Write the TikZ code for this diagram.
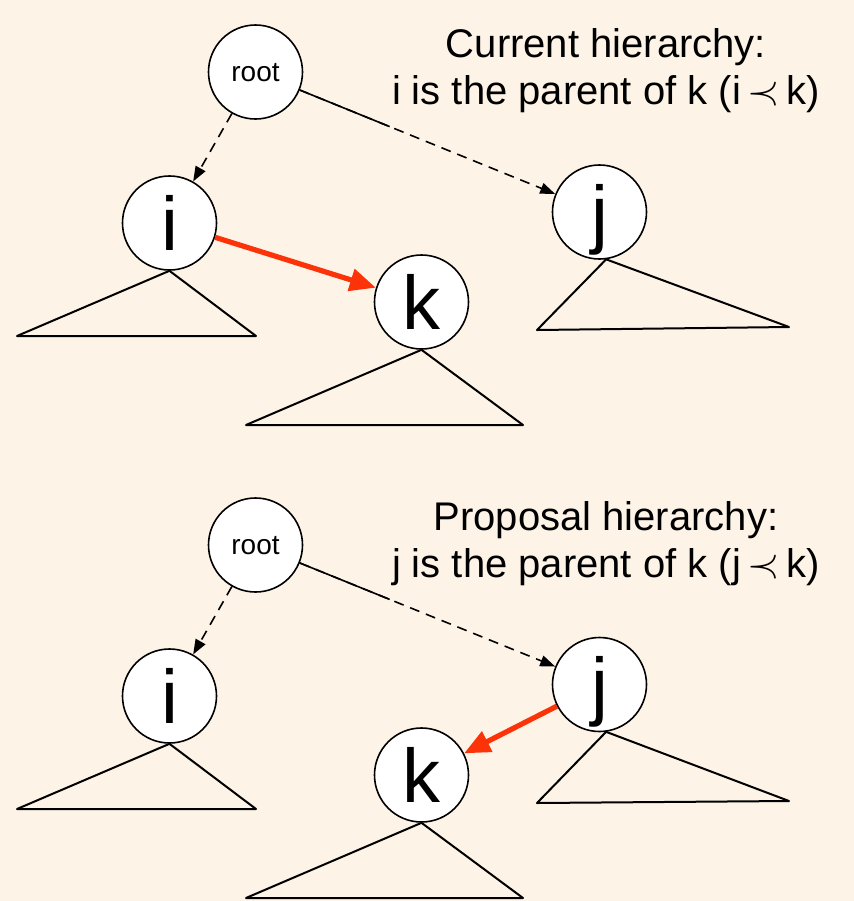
\documentclass[tikz,border=0pt]{standalone}
\usepackage{fontspec}
\setmainfont{Liberation Sans}
\usepackage{tikz}
\usetikzlibrary{arrows.meta,calc}

\definecolor{paper}{RGB}{253,244,231}
\definecolor{movered}{RGB}{252,50,8}

% precedence sign for the captions
\newcommand{\precsign}{\,$\prec$\,}

\begin{document}
\begin{tikzpicture}[x=0.5pt, y=-0.5pt, >={Triangle[length=7.5pt,width=5.5pt]},
    vertex/.style={circle, draw, fill=white, line width=0.8pt, minimum size=47pt, inner sep=0pt,
                   font=\fontsize{38}{38}\selectfont, text height=27pt, text depth=0pt},
    rootv/.style={vertex, font=\fontsize{14}{14}\selectfont, text height=9pt},
    subtree/.style={draw, line width=1pt, line join=round},
    link/.style={line width=0.8pt},
    hidden/.style={link, dash pattern=on 5pt off 3.5pt},
    move/.style={line width=2.6pt, draw=movered, -{Triangle[length=13pt,width=11pt,fill=movered]}},
    caption/.style={align=center, inner sep=0pt, font=\fontsize{20}{23.5}\selectfont}]

    \fill [paper] (0,0) rectangle (854,901);

    % Nodes {root, i, j, k} -- current hierarchy
    \node [rootv]   (root)  at (255.5,72)   {root};
    \node [vertex]  (i)     at (169.5,223)  {i};
    \node [vertex]  (j)     at (599.5,212)  {j};
    \node [vertex]  (k)     at (421.5,302)  {k};
    \node [caption, anchor=north] (cur) at (606,28) {Current hierarchy:\\ i is the parent of k (i\precsign k)};

    % Subtrees
    \draw [subtree] (i.south)  -- (17,336)  -- (256,336) -- cycle;
    \draw [subtree] (j.-82)    -- (537,330) -- (789,327) -- cycle;
    \draw [subtree] (k.south)  -- (246,425) -- (523,425) -- cycle;

    % Paths
    \coordinate (rj) at ($(root)!0.39!(j)$);
    \path [->, hidden]  (root) edge (i);
    \path [->, hidden]  (root) edge (j);
    \draw [link]        (root) -- (rj);
    \draw [move]        (i) -- (k);

    % Nodes {root2, i2, j2, k2} -- proposal hierarchy
    \node [rootv]   (root2) at (255.5,545)  {root};
    \node [vertex]  (i2)    at (169.5,696)  {i};
    \node [vertex]  (j2)    at (599.5,684.5) {j};
    \node [vertex]  (k2)    at (421.5,775)  {k};
    \node [caption, anchor=north] (prop) at (606,501) {Proposal hierarchy:\\ j is the parent of k (j\precsign k)};

    % Subtrees
    \draw [subtree] (i2.south) -- (17,809)  -- (256,809) -- cycle;
    \draw [subtree] (j2.-82)   -- (537,803) -- (789,801) -- cycle;
    \draw [subtree] (k2.south) -- (246,898) -- (523,898) -- cycle;

    % Paths
    \coordinate (rj2) at ($(root2)!0.39!(j2)$);
    \path [->, hidden]  (root2) edge (i2);
    \path [->, hidden]  (root2) edge (j2);
    \draw [link]        (root2) -- (rj2);
    \draw [move]        (j2) -- (k2);

\end{tikzpicture}
\end{document}
